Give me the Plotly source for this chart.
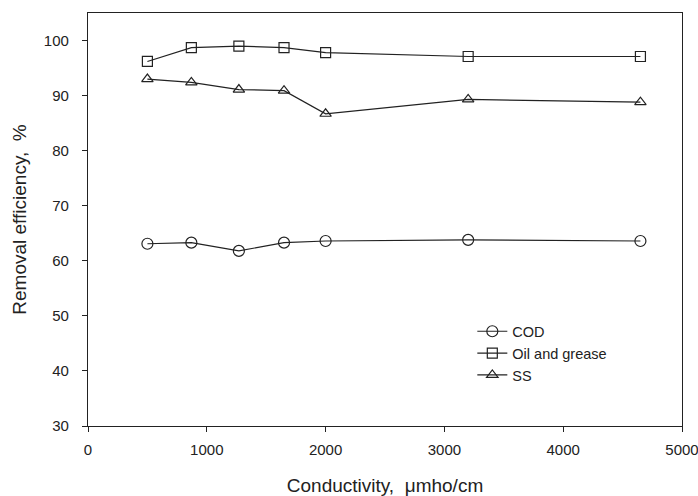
import plotly.graph_objects as go

conductivity = [500, 870, 1270, 1650, 2000, 3200, 4650]
cod = [63.1, 63.3, 61.8, 63.3, 63.6, 63.8, 63.6]
oil_grease = [96.2, 98.7, 99.0, 98.7, 97.8, 97.1, 97.1]
ss = [93.0, 92.4, 91.1, 90.9, 86.7, 89.3, 88.8]

x_ticks = [0, 1000, 2000, 3000, 4000, 5000]
y_ticks = [30, 40, 50, 60, 70, 80, 90, 100]

font = "Liberation Sans, Arial, sans-serif"
line_col = "#222222"

fig = go.Figure()
series = [("COD", cod, "circle-open", 11),
          ("Oil and grease", oil_grease, "square-open", 10),
          ("SS", ss, "triangle-up-open", 10)]
for name, vals, sym, sz in series:
    fig.add_trace(go.Scatter(
        x=conductivity, y=vals, name=name, mode="lines+markers",
        line=dict(color=line_col, width=1.2),
        marker=dict(symbol=sym, size=sz, color=line_col, line=dict(width=1.2, color=line_col)),
    ))

fig.update_layout(
    width=698, height=496,
    margin=dict(l=88, r=16, t=13, b=70),
    plot_bgcolor="white", paper_bgcolor="white",
    font=dict(family=font, size=15, color="#222222"),
    showlegend=True,
    legend=dict(x=0.647, y=0.268, xanchor="left", yanchor="top",
                bgcolor="rgba(0,0,0,0)", font=dict(size=14.5),
                itemwidth=30, tracegroupgap=0),
)
fig.update_xaxes(
    range=[0, 5000], tickvals=x_ticks, ticktext=[str(v) for v in x_ticks],
    showgrid=False, zeroline=False, showline=True, linecolor=line_col, linewidth=1.2,
    mirror=True, ticks="outside", ticklen=5, tickcolor=line_col, ticklabelstandoff=5,
    tickfont=dict(size=15), ticklabeloverflow="allow",
    title=dict(text="Conductivity,  μmho/cm", font=dict(size=19), standoff=22),
    automargin=False,
)
fig.update_yaxes(
    range=[30, 105], tickvals=y_ticks, ticktext=[str(v) for v in y_ticks],
    showgrid=False, zeroline=False, showline=True, linecolor=line_col, linewidth=1.2,
    mirror=True, ticks="outside", ticklen=5, tickcolor=line_col, ticklabelstandoff=10,
    tickfont=dict(size=15),
    title=dict(text="Removal efficiency,  %", font=dict(size=19), standoff=12),
    automargin=False,
)
fig.write_html("out.html")
